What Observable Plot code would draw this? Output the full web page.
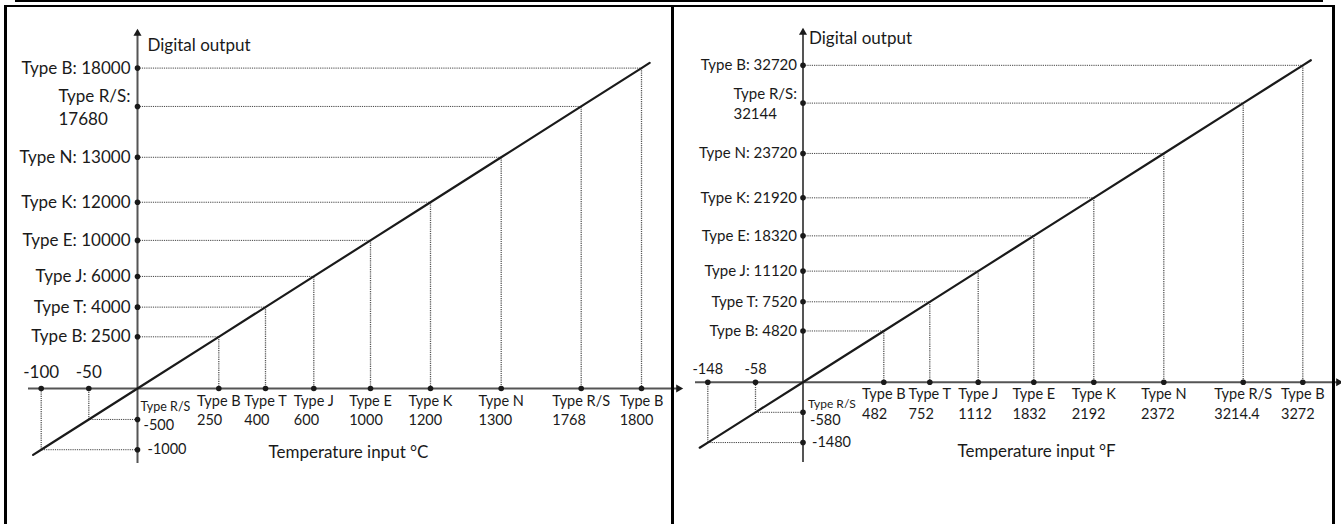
<!DOCTYPE html>
<html><head><meta charset="utf-8">
<script src="https://cdn.jsdelivr.net/npm/d3@7"></script>
<script src="https://cdn.jsdelivr.net/npm/@observablehq/plot@0.6"></script>
<style>
html,body{margin:0;padding:0;background:#fff;}
#wrap{position:relative;width:1341px;height:524px;overflow:hidden;font-family:Lato,sans-serif;}
.b{position:absolute;background:#000;}
#left{position:absolute;left:0;top:0;}
#right{position:absolute;left:670px;top:0;}
</style></head><body>
<div id="wrap">
  <div id="right"></div><div id="left"></div>
  <div class="b" style="left:15px;top:0;width:1308px;height:2px"></div>
  <div class="b" style="left:4px;top:5px;width:1331px;height:2px"></div>
  <div class="b" style="left:4px;top:5px;width:3px;height:519px"></div>
  <div class="b" style="left:671px;top:5px;width:3px;height:519px"></div>
  <div class="b" style="left:1332px;top:5px;width:3px;height:519px"></div>
</div>
<script>
// ---- data ----
const typesC = ["Type B","Type T","Type J","Type E","Type K","Type N","Type R/S","Type B"];
const tempC = [250, 400, 600, 1000, 1200, 1300, 1768, 1800];
const outC = [2500, 4000, 6000, 10000, 12000, 13000, 17680, 18000];
const negTempC = [-100, -50];
const negOutC = [-1000, -500];
const negTypesC = ["", "Type R/S"];

const typesF = ["Type B","Type T","Type J","Type E","Type K","Type N","Type R/S","Type B"];
const tempF = [482, 752, 1112, 1832, 2192, 2372, 3214.4, 3272];
const outF = [4820, 7520, 11120, 18320, 21920, 23720, 32144, 32720];
const negTempF = [-148, -58];
const negOutF = [-1480, -580];
const negTypesF = ["", "Type R/S"];

const yTitle = "Digital output";
const xTitleC = "Temperature input °C";
const xTitleF = "Temperature input °F";

// ---- layout / style (schematic, piecewise scales) ----
const leftP = {
  width: 682, ml: 28, mr: 4, mt: 33, mb: 61,
  xRange: [40.7, 88.3, 137, 218.3, 265, 313.3, 370, 430, 500.7, 580.7, 641],
  ox: 137, oy: 388, k: 0.6357,
  yFs: 17, yDx: -7, rsDy1: -10, rsDy2: 13,
  xFs: 14.5, xTypeDy: 13, xNumDy: 32,
  negXFs: 17, negXDy: -16,
  rsSmallFs: 12.5, rsSmallDx: 3, rsSmallDy: -12, negYFs: 14.5, negYRsDx: 6, negYRsDy: 6, negYDx: 10, negYDy: 0,
  yTitleDx: 10, yTitleDy: 5, xTitleDx: 240, xTitleDy: -6, titleFs: 17
};
const rightP = {
  width: 671, ml: 25, mr: 3, mt: 32, mb: 62,
  xRange: [37.3, 85, 132.5, 213.3, 259.3, 307.7, 363.3, 423.3, 493.3, 572.7, 632.3],
  ox: 132.5, oy: 381.7, k: 0.634,
  yFs: 15, yDx: -6, rsDy1: -8.5, rsDy2: 11,
  xFs: 14.5, xTypeDy: 12, xNumDy: 32.5,
  negXFs: 14.5, negXDy: -13,
  rsSmallFs: 12, rsSmallDx: 5, rsSmallDy: -8, negYFs: 14.5, negYRsDx: 7, negYRsDy: 8.5, negYDx: 9, negYDy: 0,
  yTitleDx: 6, yTitleDy: -1, xTitleDx: 262, xTitleDy: -6, titleFs: 17
};

const axisColor = "#555";
const ink = "#1a1a1a";

function panel(P, D) {
  const pts = D.temp.map((t, i) => ({t, o: D.out[i], type: D.types[i]}));
  const neg = D.negTemp.map((t, i) => ({t, o: D.negOut[i], type: D.negTypes[i]}));
  const all = [...neg, ...pts];
  const xDomain = [...D.negTemp, 0, ...D.temp];
  const yDomain = [...D.negOut, 0, ...D.out];
  const yRange = P.xRange.map(px => P.oy - P.k * (px - P.ox));
  const ext = (a, b, f) => ({t: a.t + (a.t - b.t) * f, o: a.o + (a.o - b.o) * f});
  const lineData = [ext(all[0], all[1], 0.17), ...neg, {t: 0, o: 0}, ...pts,
                    ext(all[all.length - 1], all[all.length - 2], 0.135)];
  const isRS = d => d.type.includes("R/S");
  return Plot.plot({
    width: P.width, height: 524,
    marginLeft: P.ml, marginRight: P.mr, marginTop: P.mt, marginBottom: P.mb,
    x: {type: "linear", domain: xDomain, range: P.xRange, axis: null},
    y: {type: "linear", domain: yDomain, range: yRange, axis: null},
    style: {fontFamily: "Lato, sans-serif", color: ink, background: "transparent", overflow: "visible"},
    marks: [
      Plot.link(all, {x1: 0, x2: "t", y1: "o", y2: "o", stroke: "#444", strokeWidth: 1, strokeDasharray: "1.2 1"}),
      Plot.link(all, {x1: "t", x2: "t", y1: "o", y2: 0, stroke: "#555", strokeWidth: 1.3, strokeDasharray: "1.2 1"}),
      Plot.ruleY([0], {stroke: axisColor, strokeWidth: 2}),
      Plot.ruleX([0], {stroke: axisColor, strokeWidth: 2}),
      Plot.dot([0], {x: d => d, frameAnchor: "top", symbol: "triangle", r: 3, fill: ink, stroke: "none"}),
      Plot.dot([0], {y: d => d, frameAnchor: "right", symbol: "triangle", rotate: 90, r: 3, fill: ink, stroke: "none"}),
      Plot.line(lineData, {x: "t", y: "o", stroke: ink, strokeWidth: 2.2}),
      Plot.dot(all, {x: 0, y: "o", r: 2.8, fill: ink, stroke: "none"}),
      Plot.dot(all, {x: "t", y: 0, r: 2.8, fill: ink, stroke: "none"}),
      // y labels
      Plot.text(pts.filter(d => !isRS(d)), {x: 0, y: "o", text: d => `${d.type}: ${d.o}`, textAnchor: "end", dx: P.yDx, fontSize: P.yFs}),
      Plot.text(pts.filter(isRS), {x: 0, y: "o", text: d => `${d.type}:`, textAnchor: "end", dx: P.yDx, dy: P.rsDy1, fontSize: P.yFs}),
      Plot.text(pts.filter(isRS), {x: 0, y: "o", text: d => String(d.o), textAnchor: "start", dy: P.rsDy2, fontSize: P.yFs}),
      // x labels
      Plot.text(pts, {x: "t", y: 0, text: "type", dy: P.xTypeDy, fontSize: P.xFs}),
      Plot.text(pts, {x: "t", y: 0, text: d => String(d.t), textAnchor: "start", dy: P.xNumDy, fontSize: P.xFs}),
      // negative labels
      Plot.text(neg, {x: "t", y: 0, text: d => String(d.t), dy: P.negXDy, fontSize: P.negXFs}),
      Plot.text(neg.filter(d => d.type), {x: 0, y: "o", text: "type", textAnchor: "start", dx: P.rsSmallDx, dy: P.rsSmallDy, fontSize: P.rsSmallFs}),
      Plot.text(neg.filter(d => d.type), {x: 0, y: "o", text: d => String(d.o), textAnchor: "start", dx: P.negYRsDx, dy: P.negYRsDy, fontSize: P.negYFs}),
      Plot.text(neg.filter(d => !d.type), {x: 0, y: "o", text: d => String(d.o), textAnchor: "start", dx: P.negYDx, dy: P.negYDy, fontSize: P.negYFs}),
      // titles
      Plot.text([D.yTitle], {x: 0, frameAnchor: "top", text: d => d, textAnchor: "start", dx: P.yTitleDx, dy: P.yTitleDy, fontSize: P.titleFs}),
      Plot.text([D.xTitle], {frameAnchor: "bottom-left", text: d => d, textAnchor: "start", dx: P.xTitleDx, dy: P.xTitleDy, fontSize: P.titleFs})
    ]
  });
}

// left-align the number line under its type line (text-mark groups by order)
function alignStarts(svg, typeIdx, numIdx) {
  const groups = svg.querySelectorAll('g[aria-label="text"]');
  if (!groups[typeIdx] || !groups[numIdx]) return;
  const ts = groups[typeIdx].querySelectorAll("text");
  const ns = groups[numIdx].querySelectorAll("text");
  ns.forEach((n, i) => {
    const t = ts[i]; if (!t) return;
    const d = t.getBoundingClientRect().left - n.getBoundingClientRect().left;
    n.setAttribute("transform", (n.getAttribute("transform") || "") + ` translate(${d},0)`);
  });
}

const svgL = panel(leftP, {types: typesC, temp: tempC, out: outC, negTemp: negTempC, negOut: negOutC, negTypes: negTypesC, yTitle, xTitle: xTitleC});
const svgR = panel(rightP, {types: typesF, temp: tempF, out: outF, negTemp: negTempF, negOut: negOutF, negTypes: negTypesF, yTitle, xTitle: xTitleF});
document.getElementById("left").append(svgL);
document.getElementById("right").append(svgR);
for (const s of [svgL, svgR]) {
  alignStarts(s, 1, 2); // R/S y label
  alignStarts(s, 3, 4); // x labels
}
</script>
</body></html>
